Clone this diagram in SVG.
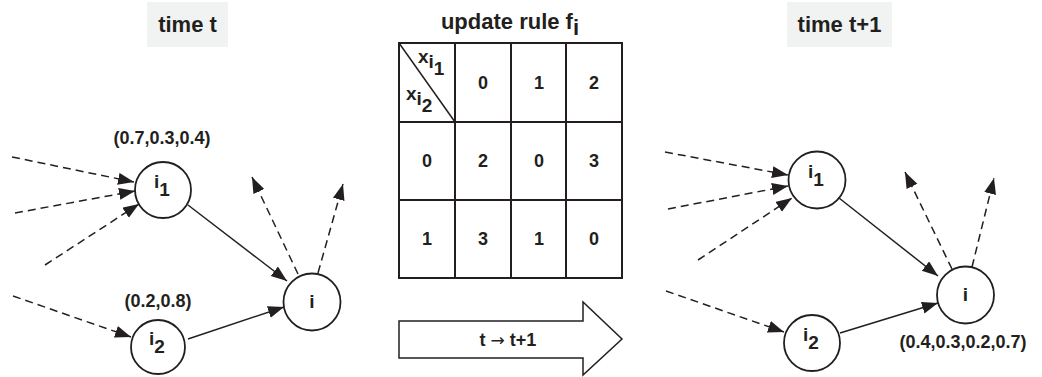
<svg xmlns="http://www.w3.org/2000/svg" width="1042" height="377" viewBox="0 0 1042 377">
  <style>
    text { font-family: "Liberation Sans", Arial, sans-serif; font-weight: bold; fill: #231f20; }
    .title { font-size: 22px; text-anchor: middle; }
    .val { font-size: 18px; text-anchor: middle; }
    .lbl { font-size: 19px; text-anchor: middle; }
    .cell { font-size: 18px; text-anchor: middle; }
    .hdr { font-size: 19px; }
    .tag { fill: #f1f3f3; }
    .node { fill: #fff; stroke: #231f20; stroke-width: 1.8; }
    .edge { fill: none; stroke: #231f20; stroke-width: 1.5; marker-end: url(#head); }
    .dash { stroke-dasharray: 8 5; }
    .grid { fill: none; stroke: #231f20; stroke-width: 2; }
    .sym { font-family: "DejaVu Sans", sans-serif; font-weight: normal; }
  </style>
  <defs>
    <marker id="head" markerUnits="userSpaceOnUse" markerWidth="17" markerHeight="13" refX="16" refY="6" orient="auto">
      <path d="M0,0 L16,6 L0,12 z" fill="#231f20"/>
    </marker>
  </defs>

  <rect width="1042" height="377" fill="#fff"/>

  <!-- panel titles -->
  <g id="title-t">
    <rect class="tag" x="147" y="2" width="81" height="45"/>
    <text class="title" x="187.5" y="32">time t</text>
  </g>
  <g id="title-t1">
    <rect class="tag" x="787" y="2" width="105" height="45"/>
    <text class="title" x="839.5" y="32">time t+1</text>
  </g>

  <!-- connectors -->
  <g id="connectors">
    <!-- time t -->
    <line class="edge dash" x1="12" y1="157" x2="134" y2="182"/>
    <line class="edge dash" x1="15" y1="213" x2="135" y2="191"/>
    <line class="edge dash" x1="45" y1="265" x2="139" y2="204"/>
    <line class="edge dash" x1="13" y1="296" x2="131" y2="337"/>
    <line class="edge" x1="188" y1="205" x2="287" y2="281"/>
    <line class="edge" x1="188" y1="339" x2="284" y2="307"/>
    <line class="edge dash" x1="298" y1="274" x2="252" y2="177"/>
    <line class="edge dash" x1="318" y1="273" x2="343" y2="184"/>
    <!-- time t+1 -->
    <line class="edge dash" x1="665" y1="152" x2="788" y2="175"/>
    <line class="edge dash" x1="668" y1="209" x2="788" y2="186"/>
    <line class="edge dash" x1="698" y1="260" x2="792" y2="198"/>
    <line class="edge dash" x1="666" y1="291" x2="784" y2="332"/>
    <line class="edge" x1="839" y1="198" x2="938" y2="276"/>
    <line class="edge" x1="840" y1="333" x2="938" y2="303"/>
    <line class="edge dash" x1="952" y1="269" x2="905" y2="172"/>
    <line class="edge dash" x1="972" y1="267" x2="994" y2="178"/>
  </g>

  <!-- nodes at time t -->
  <g id="t-i1">
    <circle class="node" cx="163" cy="190" r="28"/>
    <text class="lbl" x="162" y="188">i<tspan dy="8">1</tspan></text>
  </g>
  <text class="val" x="162" y="144">(0.7,0.3,0.4)</text>
  <g id="t-i2">
    <circle class="node" cx="158" cy="347" r="27"/>
    <text class="lbl" x="157" y="345">i<tspan dy="8">2</tspan></text>
  </g>
  <text class="val" x="158" y="307">(0.2,0.8)</text>
  <g id="t-i">
    <circle class="node" cx="312" cy="302" r="28.5"/>
    <text class="lbl" x="312" y="308">i</text>
  </g>

  <!-- nodes at time t+1 -->
  <g id="t1-i1">
    <circle class="node" cx="817" cy="180" r="28.5"/>
    <text class="lbl" x="816" y="178">i<tspan dy="8">1</tspan></text>
  </g>
  <g id="t1-i2">
    <circle class="node" cx="812" cy="343" r="28"/>
    <text class="lbl" x="811" y="341">i<tspan dy="8">2</tspan></text>
  </g>
  <g id="t1-i">
    <circle class="node" cx="965.5" cy="295" r="28.5"/>
    <text class="lbl" x="965.5" y="301">i</text>
  </g>
  <text class="val" x="963" y="348">(0.4,0.3,0.2,0.7)</text>

  <!-- update rule table -->
  <g id="rule-table">
    <text class="title" x="510" y="29">update rule f<tspan dy="6">i</tspan></text>
    <rect class="grid" x="399" y="43" width="223" height="235"/>
    <path class="grid" d="M455,43 V278 M511,43 V278 M566,43 V278 M399,122 H622 M399,200 H622"/>
    <line x1="399" y1="43" x2="455" y2="122" stroke="#231f20" stroke-width="1.5"/>
    <text class="hdr" x="418" y="63">x<tspan dy="5">i</tspan><tspan dy="7">1</tspan></text>
    <text class="hdr" x="406" y="100">x<tspan dy="5">i</tspan><tspan dy="7">2</tspan></text>
    <text class="cell" x="483" y="89">0</text>
    <text class="cell" x="539" y="89">1</text>
    <text class="cell" x="594" y="89">2</text>
    <text class="cell" x="427" y="167">0</text>
    <text class="cell" x="483" y="167">2</text>
    <text class="cell" x="539" y="167">0</text>
    <text class="cell" x="594" y="167">3</text>
    <text class="cell" x="427" y="245">1</text>
    <text class="cell" x="483" y="245">3</text>
    <text class="cell" x="539" y="245">1</text>
    <text class="cell" x="594" y="245">0</text>
  </g>

  <!-- transition arrow -->
  <g id="step-arrow">
    <path d="M399,321 H583 V302 L622,339 L583,375 V358 H399 Z" fill="#fff" stroke="#231f20" stroke-width="1.5"/>
    <text class="cell" x="508" y="346" font-size="17">t <tspan class="sym" font-size="17">→</tspan> t+1</text>
  </g>
</svg>
